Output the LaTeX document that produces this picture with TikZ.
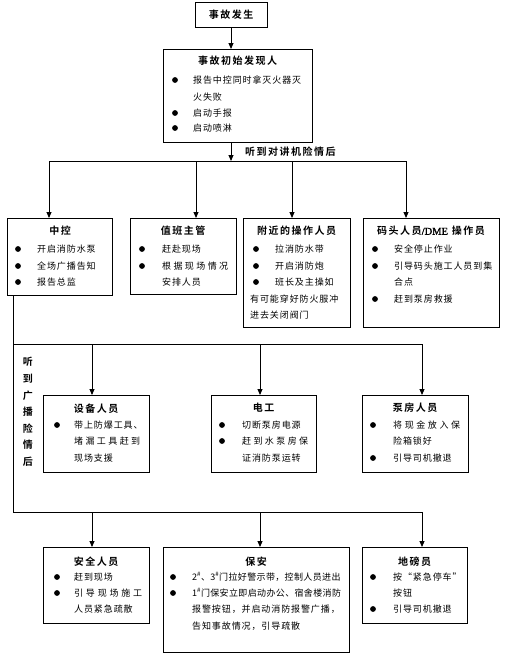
\documentclass[tikz,border=0pt]{standalone}
\usepackage{fontspec}
\usetikzlibrary{arrows.meta}
\newfontfamily\cjk{Noto Sans CJK SC}[LetterSpace=10]
\newfontfamily\cjkn{Noto Sans CJK SC}[LetterSpace=4]
\newfontfamily\cjkb{Noto Sans CJK SC Bold}[LetterSpace=15]
\newfontfamily\latb{Liberation Serif}[FakeBold=1.5]
\tikzset{
  box/.style={draw, line width=0.9pt, inner sep=0pt, outer sep=0pt, anchor=north west},
  tx/.style={anchor=west, inner sep=0pt, font=\cjk\fontsize{9}{10}\selectfont},
  ttl/.style={inner sep=0pt, font=\cjkb\fontsize{10}{11}\selectfont},
  arr/.style={line width=0.9pt, -{Triangle[length=6pt,width=5pt]}},
  ln/.style={line width=0.9pt}
}
\newcommand\mybox[5]{\node[box, minimum width={#4pt-#2pt}, minimum height={#5pt-#3pt}] (#1) at (#2,#3) {};}
\newcommand\bul[2]{\fill (#1,#2) circle (2.9pt);}
\newcommand\tl[4]{\node[tx] (#1) at (#2,#3) {#4};}
\newcommand\jl[5]{\node[tx] (#1) at (#2,#3) {\makebox[#4pt][s]{#5}};}
\begin{document}
\begin{tikzpicture}[x=1pt,y=-1pt]
\fill[white] (0,0) rectangle (509,659);
\useasboundingbox (0,0) rectangle (509,659);
% boxes
\mybox{b1}{195}{2}{267}{27}
\mybox{b2}{163}{49}{312}{142}
\mybox{zk}{7}{218}{112}{295}
\mybox{zb}{130}{218}{236}{294}
\mybox{fj}{243}{218}{350}{327}
\mybox{mt}{363}{218}{499}{327}
\mybox{sb}{43}{395}{149}{472}
\mybox{dg}{211}{395}{316}{472}
\mybox{bf}{362}{395}{468}{472}
\mybox{aq}{43}{547}{149}{623}
\mybox{ba}{163}{547}{349}{652}
\mybox{db}{362}{547}{467}{623}
% box 1
\node[ttl] (b1t) at (231,15) {事故发生};
% box 2
\node[ttl] (b2t) at (237.5,61) {事故初始发现人};
\bul{175}{80}\tl{b2a}{193}{80}{报告中控同时拿灭火器灭}
\tl{b2b}{193}{97}{火失败}
\bul{175}{113}\tl{b2c}{193}{113}{启动手报}
\bul{175}{128}\tl{b2d}{193}{128}{启动喷淋}
\node[ttl, anchor=west] (lab1) at (245,152) {听到对讲机险情后};
% zk
\node[ttl] (zkt) at (60,231) {中控};
\bul{18}{249}\tl{zka}{37}{249}{开启消防水泵}
\bul{18}{266}\tl{zkb}{37}{266}{全场广播告知}
\bul{18}{282}\tl{zkc}{37}{282}{报告总监}
% zb
\node[ttl] (zbt) at (183,231) {值班主管};
\bul{142}{249}\tl{zba}{162}{249}{赶赴现场}
\bul{142}{266}\jl{zbb}{162}{266}{66}{根\hfill 据\hfill 现\hfill 场\hfill 情\hfill 况}
\tl{zbc}{162}{282}{安排人员}
% fj
\node[ttl] (fjt) at (296.5,231) {附近的操作人员};
\bul{256}{249}\tl{fja}{275}{249}{拉消防水带}
\bul{256}{266}\tl{fjb}{275}{266}{开启消防炮}
\bul{256}{282}\tl{fjc}{275}{282}{班长及主操如}
\tl{fjd}{250}{299}{有可能穿好防火服冲}
\tl{fje}{250}{315}{进去关闭阀门}
% mt
\node[ttl] (mtt) at (431,231) {码头人员{\latb\fontsize{10.5}{11}\selectfont /DME} 操作员};
\bul{375}{249}\tl{mta}{394}{249}{安全停止作业}
\bul{375}{266}\tl{mtb}{394}{266}{引导码头施工人员到集}
\tl{mtc}{394}{282}{合点}
\bul{375}{299}\tl{mtd}{394}{299}{赶到泵房救援}
% vertical label
\node[inner sep=0pt, font=\cjkb\fontsize{10}{16.6}\selectfont, align=center] (lab2) at (28,412) {听\\到\\广\\播\\险\\情\\后};
% sb
\node[ttl] (sbt) at (96,409) {设备人员};
\bul{57}{425}\tl{sba}{74}{425}{带上防爆工具、}
\jl{sbb}{74}{441}{66}{堵\hfill 漏\hfill 工\hfill 具\hfill 赶\hfill 到}
\tl{sbc}{74}{458}{现场支援}
% dg
\node[ttl] (dgt) at (263.5,408) {电工};
\bul{222}{425}\tl{dga}{242}{425}{切断泵房电源}
\bul{222}{441}\jl{dgb}{242}{441}{66}{赶\hfill 到\hfill 水\hfill 泵\hfill 房\hfill 保}
\tl{dgc}{242}{458}{证消防泵运转}
% bf
\node[ttl] (bft) at (415,408) {泵房人员};
\bul{373}{425}\jl{bfa}{393}{425}{67}{将\hfill 现\hfill 金\hfill 放\hfill 入\hfill 保}
\tl{bfb}{393}{441}{险箱锁好}
\bul{373}{458}\tl{bfc}{393}{458}{引导司机撤退}
% aq
\node[ttl] (aqt) at (96,562) {安全人员};
\bul{57}{577}\tl{aqa}{74}{577}{赶到现场}
\bul{57}{593}\jl{aqb}{74}{593}{68}{引\hfill 导\hfill 现\hfill 场\hfill 施\hfill 工}
\tl{aqc}{74}{609}{人员紧急疏散}
% ba
\node[ttl] (bat) at (256,562) {保安};
\bul{173}{577}\node[tx, font=\cjkn\fontsize{9}{10}\selectfont] (baa) at (192,577) {2\textsuperscript{\#}、3\textsuperscript{\#}门拉好警示带，控制人员进出};
\bul{173}{593}\node[tx, font=\cjkn\fontsize{9}{10}\selectfont] (bab) at (192,593) {1\textsuperscript{\#}门保安立即启动办公、宿舍楼消防};
\tl{bac}{192}{609}{报警按钮，并启动消防报警广播，}
\tl{bad}{192}{626}{告知事故情况，引导疏散}
% db
\node[ttl] (dbt) at (414.5,562) {地磅员};
\bul{373}{577}\tl{dba}{393}{577}{按“紧急停车”}
\tl{dbb}{393}{593}{按钮}
\bul{373}{609}\tl{dbc}{393}{609}{引导司机撤退}
% connectors
\coordinate (j1) at (231,161);
\coordinate (bl) at (49,161);
\coordinate (br) at (406,161);
\coordinate (m1) at (196,161);
\coordinate (m2) at (292,161);
\draw[arr] (b1.south -| j1) -- (b2.north -| j1);
\draw[arr] (b2.south -| j1) -- (j1);
\draw[ln] (bl) -- (br);
\draw[arr] (bl) -- (zk.north -| bl);
\draw[arr] (m1) -- (zb.north -| m1);
\draw[arr] (m2) -- (fj.north -| m2);
\draw[arr] (br) -- (mt.north -| br);
\coordinate (t1) at (13,344);
\coordinate (t2) at (13,512);
\coordinate (r1) at (422,344);
\coordinate (r2) at (422,512);
\coordinate (p1) at (92,344);
\coordinate (p2) at (260,344);
\coordinate (q1) at (92,512);
\coordinate (q2) at (260,512);
\draw[ln] (zk.south -| t1) -- (t2) -- (r2);
\draw[ln] (t1) -- (r1);
\draw[arr] (p1) -- (sb.north -| p1);
\draw[arr] (p2) -- (dg.north -| p2);
\draw[arr] (r1) -- (bf.north -| r1);
\draw[arr] (q1) -- (aq.north -| q1);
\draw[arr] (q2) -- (ba.north -| q2);
\draw[arr] (r2) -- (db.north -| r2);
\end{tikzpicture}
\end{document}
